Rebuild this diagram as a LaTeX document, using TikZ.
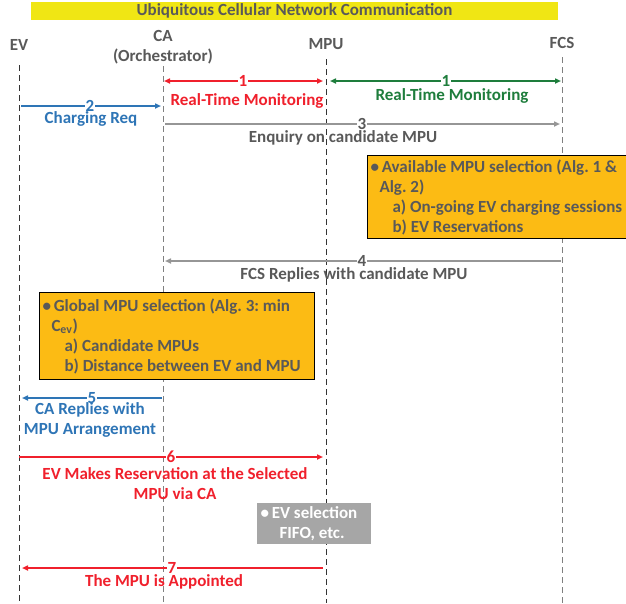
\documentclass[tikz,border=0pt]{standalone}
\usepackage{fontspec}
\setmainfont{Carlito}
\usetikzlibrary{arrows.meta,positioning}
\frenchspacing

\begin{document}
\begin{tikzpicture}[x=1pt,y=-1pt]
			\definecolor{textGrey}{RGB}{89,89,89}
			\definecolor{bannerYellow}{RGB}{240,230,20}
			\definecolor{msgRed}{RGB}{240,32,44}
			\definecolor{msgGreen}{RGB}{30,125,60}
			\definecolor{msgBlue}{RGB}{46,117,182}
			\definecolor{msgGrey}{RGB}{150,150,150}
			\definecolor{boxOrange}{RGB}{252,187,20}
			\definecolor{boxGrey}{RGB}{166,166,166}
			\tikzstyle{txt}=[font=\fontsize{17}{20}\selectfont\bfseries, inner sep=0pt]
			\tikzstyle{head}=[txt, text=textGrey]
			\tikzstyle{num}=[txt, fill=white, inner xsep=1pt]
			\tikzstyle{lifeline}=[-, line width=1pt, dash pattern=on 6pt off 4pt]
			\tikzstyle{msg}=[line width=1.5pt, -{Triangle[length=6pt,width=5pt]}]
			\tikzstyle{duplex}=[line width=1.5pt, {Triangle[length=6pt,width=5pt]}-{Triangle[length=6pt,width=5pt]}]
			\tikzstyle{stepbox}=[txt, draw, line width=1pt, anchor=north west, align=flush left, inner xsep=3pt, inner ysep=0pt]

			\useasboundingbox (0,0) rectangle (626,603);

			% banner
			\node [txt, fill=bannerYellow, text=textGrey, minimum width=527pt, minimum height=18pt] (banner) at (294.5,11) {Ubiquitous Cellular Network Communication};

			% lifeline heads
			\node [head] (ev) at (19,45) {EV};
			\node [head] (ca) at (163,36) {CA};
			\node [head] (orch) at (163,56) {(Orchestrator)};
			\node [head] (mpu) at (326,44) {MPU};
			\node [head] (fcs) at (562,43) {FCS};

			\coordinate (evTop) at (19,65);   \coordinate (evBot) at (19,603);
			\coordinate (caTop) at (163,66);  \coordinate (caBot) at (163,603);
			\coordinate (mpuTop) at (326,59); \coordinate (mpuBot) at (326,603);
			\coordinate (fcsTop) at (562,57); \coordinate (fcsBot) at (562,603);

			\path[lifeline, color=black!80] (evTop) edge (evBot) (mpuTop) edge (mpuBot);
			\path[lifeline, color=black!50] (caTop) edge (caBot) (fcsTop) edge (fcsBot);

			% message end points
			\coordinate (ca1) at (164,81);  \coordinate (mpu1) at (323,81);
			\coordinate (mpu1g) at (330,81); \coordinate (fcs1) at (561,81);
			\coordinate (ev2) at (21,106);  \coordinate (ca2) at (161,106);
			\coordinate (ca3) at (165,124); \coordinate (fcs3) at (560,124);
			\coordinate (fcs4) at (561,261); \coordinate (ca4) at (165,261);
			\coordinate (ca5) at (162,398); \coordinate (ev5) at (22,398);
			\coordinate (ev6) at (19,457);  \coordinate (mpu6) at (323,457);
			\coordinate (mpu7) at (323,568); \coordinate (ev7) at (22,568);

			\path[duplex, color=msgRed] (ca1) edge (mpu1);
			\path[duplex, color=msgGreen] (mpu1g) edge (fcs1);
			\path[msg, color=msgBlue] (ev2) edge (ca2) (ca5) edge (ev5);
			\path[msg, color=msgGrey] (ca3) edge (fcs3) (fcs4) edge (ca4);
			\path[msg, color=msgRed] (ev6) edge (mpu6) (mpu7) edge (ev7);

			% step numbers
			\node [num, text=msgRed] (n1r) at (243,81) {1};
			\node [num, text=msgGreen] (n1g) at (446,81) {1};
			\node [num, text=msgBlue] (n2) at (90,106) {2};
			\node [num, text=textGrey] (n3) at (362,124) {3};
			\node [num, text=textGrey] (n4) at (362,261) {4};
			\node [num, text=msgBlue] (n5) at (92,398) {5};
			\node [num, text=msgRed] (n6) at (171,457) {6};
			\node [num, text=msgRed] (n7) at (172,568) {7};

			% message texts
			\node [txt, text=msgRed] (m1r) at (247,101) {Real-Time Monitoring};
			\node [txt, text=msgGreen] (m1g) at (452,96) {Real-Time Monitoring};
			\node [txt, text=msgBlue] (m2) at (91,119) {Charging Req};
			\node [txt, text=textGrey] (m3) at (343,138) {Enquiry on candidate MPU};
			\node [txt, text=textGrey] (m4) at (354,275) {FCS Replies with candidate MPU};
			\node [txt, text=msgBlue, align=center] (m5) at (90,420) {CA Replies with\\MPU Arrangement};
			\node [txt, text=msgRed, align=center] (m6) at (175,484) {EV Makes Reservation at the Selected\\MPU via CA};
			\node [txt, text=msgRed] (m7) at (164,582) {The MPU is Appointed};

			% decision boxes
			\node [stepbox, fill=boxOrange, text=textGrey, minimum width=275pt, minimum height=83pt, text width=268pt] (fcsSel) at (366.5,155)
				{\textbullet\,Available MPU selection (Alg. 1 \&\\
				\hspace*{9pt}Alg. 2)\\
				\hspace*{22pt}a) On-going EV charging sessions\\
				\hspace*{22pt}b) EV Reservations};
			\node [stepbox, fill=boxOrange, text=textGrey, minimum width=275pt, minimum height=87pt, text width=269pt] (caSel) at (39,292)
				{\textbullet\,Global MPU selection (Alg. 3: min\\
				\hspace*{9pt}C\textsubscript{ev})\\
				\hspace*{22pt}a) Candidate MPUs\\
				\hspace*{22pt}b) Distance between EV and MPU};
			\node [stepbox, fill=boxGrey, draw=black!35, text=white, minimum width=113pt, minimum height=40pt, text width=107pt] (mpuSel) at (257,503)
				{\textbullet\,EV selection\\
				\hspace*{19pt}FIFO, etc.};
		\end{tikzpicture}
\end{document}
